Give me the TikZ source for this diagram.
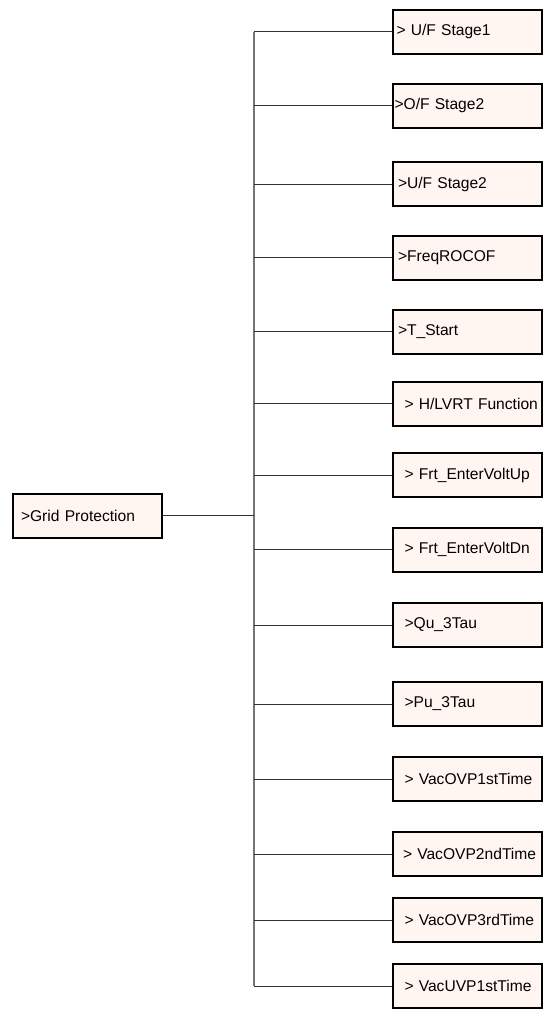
\documentclass[tikz,border=0pt]{standalone}
\usepackage{fontspec}
\setmainfont{Liberation Sans}
\usetikzlibrary{positioning}
\definecolor{boxfill}{RGB}{255,246,241}
\definecolor{wirecol}{RGB}{50,50,50}
\definecolor{trunkcol}{RGB}{115,115,115}

\begin{document}
\begin{tikzpicture}[
  x=1pt, y=-1pt,
  font=\fontsize{15.6}{18}\selectfont,
  menubox/.style={draw, line width=2pt, fill=boxfill, minimum width=149pt,
                  minimum height=44pt, text width=146pt, inner xsep=1.5pt,
                  align=left},
  rootbox/.style={menubox, text width=133pt, inner xsep=8pt},
  pad/.style={execute at begin node={\hspace*{#1}}},
  wire/.style={draw=wirecol, line width=.8pt},
  trunk/.style={draw=trunkcol, line width=1.2pt},
]
\useasboundingbox (0,0) rectangle (544,1010);

% root
\node[rootbox] (grid) at (87.5,515.5) {>Grid Protection};

% sub menus
\node[menubox, pad=2pt]    (s1)  at (467.5,31.5)  {> U/F Stage1};
\node[menubox]             (s2)  at (467.5,105.5) {>O/F Stage2};
\node[menubox, pad=3.5pt]  (s3)  at (467.5,184)   {>U/F Stage2};
\node[menubox, pad=3.5pt]  (s4)  at (467.5,257.5) {>FreqROCOF};
\node[menubox, pad=3.5pt]  (s5)  at (467.5,331.5) {>T\_Start};
\node[menubox, pad=10pt]   (s6)  at (467.5,403.5) {> H/LVRT Function};
\node[menubox, pad=10pt]   (s7)  at (467.5,475)   {> Frt\_EnterVoltUp};
\node[menubox, pad=10pt]   (s8)  at (467.5,549.5) {> Frt\_EnterVoltDn};
\node[menubox, pad=10pt]   (s9)  at (467.5,625)   {>Qu\_3Tau};
\node[menubox, pad=10pt]   (s10) at (467.5,704)   {>Pu\_3Tau};
\node[menubox, pad=10pt]   (s11) at (467.5,779)   {> VacOVP1stTime};
\node[menubox, pad=8.5pt]  (s12) at (467.5,854)   {> VacOVP2ndTime};
\node[menubox, pad=10pt]   (s13) at (467.5,920)   {> VacOVP3rdTime};
\node[menubox, pad=10pt]   (s14) at (467.5,986)   {> VacUVP1stTime};

% tree lines
\coordinate (fork) at (254,515.5);
\draw[trunk] (s1.west -| fork) -- (s14.west -| fork);
\draw[wire] (grid.east) -- (fork);
\foreach \i in {1,...,14}
  \draw[wire] (s\i.west -| fork) -- (s\i.west);
\end{tikzpicture}
\end{document}
